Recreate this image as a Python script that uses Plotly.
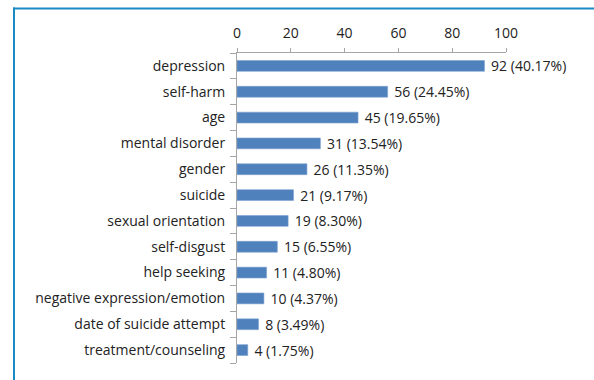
import plotly.graph_objects as go

# Reported themes and their counts / shares
categories = [
    "depression", "self-harm", "age", "mental disorder", "gender", "suicide",
    "sexual orientation", "self-disgust", "help seeking",
    "negative expression/emotion", "date of suicide attempt", "treatment/counseling",
]
counts = [92, 56, 45, 31, 26, 21, 19, 15, 11, 10, 8, 4]
percents = ["40.17%", "24.45%", "19.65%", "13.54%", "11.35%", "9.17%",
            "8.30%", "6.55%", "4.80%", "4.37%", "3.49%", "1.75%"]
x_ticks = [0, 20, 40, 60, 80, 100]

# leading no-break space widens the gap between bar end and its label
labels = [f"\u00a0{c} ({p})" for c, p in zip(counts, percents)]

W, H = 594, 380
L, R, T, B = 237, 88, 53, 17
pw, ph = W - L - R, H - T - B

def px_to_paper_x(px):
    return (px - L) / pw

def px_to_paper_y(py):
    return (H - B - py) / ph

font_family = "Open Sans, sans-serif"
text_color = "#222222"
font_size = 14

fig = go.Figure(go.Bar(
    x=counts,
    y=categories,
    orientation="h",
    marker=dict(color="#4f81bd", line=dict(color="#7ea1cf", width=0.6)),
    text=labels,
    textposition="outside",
    constraintext="none",
    textfont=dict(family=font_family, size=font_size, color=text_color),
    cliponaxis=False,
))

border = "#1a8ac4"
fig.update_layout(
    width=W, height=H,
    margin=dict(l=L, r=R, t=T, b=B),
    paper_bgcolor="white",
    plot_bgcolor="white",
    showlegend=False,
    bargap=0.58,
    font=dict(family=font_family, size=font_size, color=text_color),
    xaxis=dict(
        side="top",
        range=[0, 100],
        tickvals=x_ticks,
        showgrid=False,
        zeroline=False,
        showline=True,
        linecolor="#a6a6a6",
        linewidth=1,
        ticks="outside",
        ticklen=4,
        tickcolor="#a6a6a6",
        tickfont=dict(family=font_family, size=font_size, color=text_color),
        ticklabelstandoff=4,
    ),
    yaxis=dict(
        categoryorder="array",
        categoryarray=categories[::-1],
        showgrid=False,
        showline=True,
        linecolor="#a6a6a6",
        linewidth=1,
        ticks="outside",
        ticklen=6,
        tickcolor="#a6a6a6",
        tickson="boundaries",
        tickfont=dict(family=font_family, size=font_size, color=text_color),
        ticklabelstandoff=8,
    ),
    shapes=[
        dict(type="line", xref="paper", yref="paper",
             x0=px_to_paper_x(13), x1=px_to_paper_x(W + 2),
             y0=px_to_paper_y(8.5), y1=px_to_paper_y(8.5),
             line=dict(color=border, width=2)),
        dict(type="line", xref="paper", yref="paper",
             x0=px_to_paper_x(14), x1=px_to_paper_x(14),
             y0=px_to_paper_y(7.5), y1=px_to_paper_y(H + 2),
             line=dict(color=border, width=2)),
    ],
)

fig.write_html("out.html")
